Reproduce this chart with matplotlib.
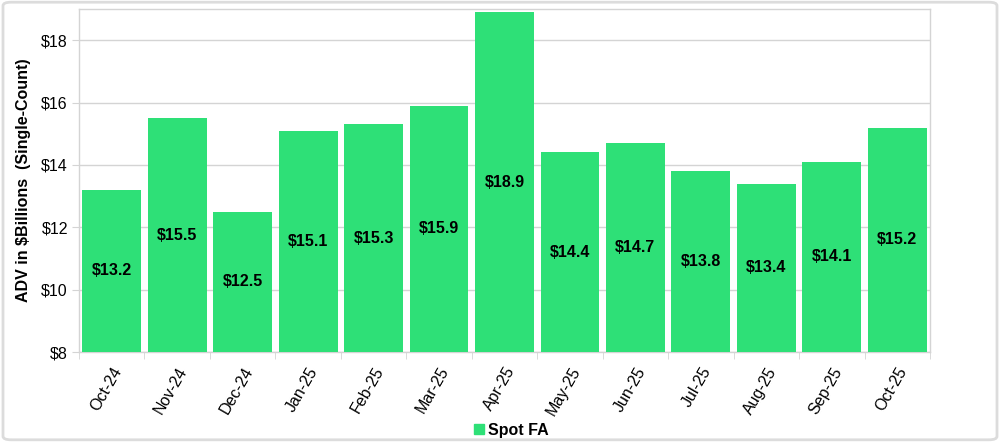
import matplotlib.pyplot as plt
import numpy as np
from matplotlib.patches import FancyBboxPatch
from matplotlib.lines import Line2D

plt.rcParams['font.family'] = ['Liberation Sans', 'DejaVu Sans']

months = ["Oct-24", "Nov-24", "Dec-24", "Jan-25", "Feb-25", "Mar-25", "Apr-25",
          "May-25", "Jun-25", "Jul-25", "Aug-25", "Sep-25", "Oct-25"]
spot_fa = [13.2, 15.5, 12.5, 15.1, 15.3, 15.9, 18.9, 14.4, 14.7, 13.8, 13.4, 14.1, 15.2]

GREEN = "#2ee077"
GRID = "#d4d4d4"
FS = 11.5

fig = plt.figure(figsize=(10, 4.42), dpi=100)
# rounded outer frame
fig.patches.append(FancyBboxPatch((0.003, 0.005), 0.994, 0.99,
                                  boxstyle="round,pad=0,rounding_size=0.008",
                                  transform=fig.transFigure, fill=False,
                                  edgecolor="#dcdcdc", linewidth=2))

ax = fig.add_axes([0.079, 0.2036, 0.851, 0.776])
x = np.arange(len(months))
ax.bar(x, [v - 8 for v in spot_fa], bottom=8, width=0.9, color=GREEN, zorder=3)

for xi, v in zip(x, spot_fa):
    ax.text(xi, (8 + v) / 2, "${:.1f}".format(v), ha="center", va="center",
            fontsize=FS, fontweight="bold", zorder=4)

ax.set_xlim(-0.5, len(months) - 0.5)
ax.set_ylim(8, 19)
ax.set_yticks(range(8, 20, 2))
ax.set_yticklabels(["${}".format(t) for t in range(8, 20, 2)], fontsize=FS)
ax.yaxis.grid(True, color=GRID, linewidth=1, zorder=0)

ax.set_xticks(x)
ax.set_xticklabels(months, rotation=60, ha="right", rotation_mode="anchor", fontsize=FS)
ax.tick_params(axis="x", length=0, pad=9)
ax.set_xticks(np.arange(-0.5, len(months), 1), minor=True)
ax.tick_params(axis="x", which="minor", length=5, color=GRID)
ax.tick_params(axis="y", length=5, color=GRID, pad=3)

for s in ax.spines.values():
    s.set_color(GRID)
    s.set_linewidth(1)

ax.set_ylabel("ADV in $Billions  (Single-Count)", fontsize=FS, fontweight="bold", labelpad=7)

handle = Line2D([], [], marker="s", linestyle="", color=GREEN, markersize=7)
fig.legend([handle], ["Spot FA"], loc="center", bbox_to_anchor=(0.51, 0.027),
           frameon=False, prop={"weight": "bold", "size": FS},
           handletextpad=0.1, handlelength=1)

fig.savefig("out.png", dpi=100)
